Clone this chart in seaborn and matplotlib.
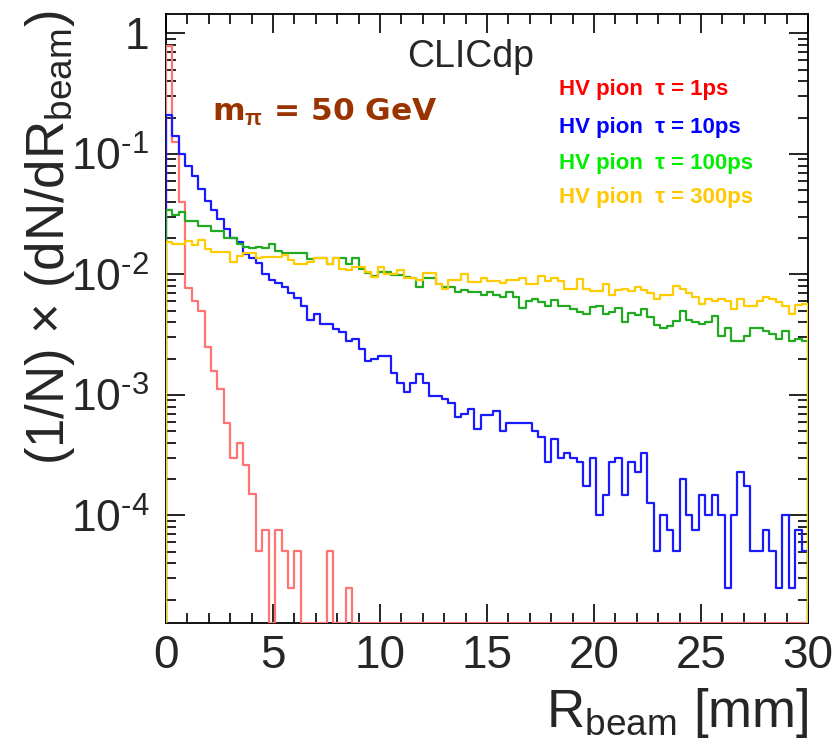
import numpy as np
import pandas as pd
import matplotlib
matplotlib.use("Agg")
import matplotlib.pyplot as plt
import seaborn as sns
from matplotlib.ticker import (FixedLocator, FixedFormatter, MultipleLocator,
                               LogLocator, NullFormatter)

# ---------------- data (normalised histograms, 100 bins over 0-30 mm) ----------------
r_lo, r_hi, n_bins = 0.0, 30.0, 100

tau_1ps = [0.78, 0.126, 0.040, 0.0077, 0.0060, 0.0050, 0.0025, 0.00158, 0.00113, 0.00058,
           0.00030, 0.00040, 0.00026, 0.00015, 5.1e-5, 7.5e-5, 0.0, 7.5e-5, 5.1e-5, 2.5e-5,
           5.1e-5, 0.0, 0.0, 0.0, 0.0, 5.1e-5, 0.0, 0.0, 2.5e-5, 0.0,
           0.0, 0.0, 0.0, 0.0, 0.0, 0.0, 0.0, 0.0, 0.0, 0.0,
           0.0, 0.0, 0.0, 0.0, 0.0, 0.0, 0.0, 0.0, 0.0, 0.0,
           0.0, 0.0, 0.0, 0.0, 0.0, 0.0, 0.0, 0.0, 0.0, 0.0,
           0.0, 0.0, 0.0, 0.0, 0.0, 0.0, 0.0, 0.0, 0.0, 0.0,
           0.0, 0.0, 0.0, 0.0, 0.0, 0.0, 0.0, 0.0, 0.0, 0.0,
           0.0, 0.0, 0.0, 0.0, 0.0, 0.0, 0.0, 0.0, 0.0, 0.0,
           0.0, 0.0, 0.0, 0.0, 0.0, 0.0, 0.0, 0.0, 0.0, 0.0]

tau_10ps = [0.21, 0.141, 0.100, 0.079, 0.065, 0.051, 0.041, 0.034, 0.029, 0.024,
            0.020, 0.0187, 0.0149, 0.0136, 0.0125, 0.0101, 0.0090, 0.0085, 0.0078, 0.0070,
            0.0064, 0.0055, 0.0042, 0.0047, 0.0039, 0.0039, 0.0035, 0.0033, 0.0028, 0.0029,
            0.0024, 0.0019, 0.0020, 0.0021, 0.0021, 0.00151, 0.00126, 0.00106, 0.00126, 0.00149,
            0.00125, 0.00098, 0.00098, 0.00092, 0.00085, 0.00065, 0.00070, 0.00077, 0.00052, 0.00068,
            0.00068, 0.00073, 0.00050, 0.00058, 0.00059, 0.00059, 0.00058, 0.00050, 0.00045, 0.00028,
            0.00043, 0.00030, 0.00033, 0.00030, 0.00028, 0.000175, 0.00030, 0.00010, 0.000149, 0.00028,
            0.00030, 0.000149, 0.00028, 0.00023, 0.00033, 0.000127, 5.1e-5, 0.00010, 7.5e-5, 5.1e-5,
            0.00020, 0.00010, 7.5e-5, 0.000149, 0.00010, 0.000149, 0.00010, 2.5e-5, 0.00010, 0.00023,
            0.000175, 5.1e-5, 5.1e-5, 7.5e-5, 5.1e-5, 2.5e-5, 0.00010, 2.5e-5, 7.5e-5, 5.1e-5]

tau_100ps = [0.034, 0.031, 0.033, 0.028, 0.028, 0.025, 0.025, 0.023, 0.023, 0.020,
             0.020, 0.018, 0.017, 0.0165, 0.017, 0.0165, 0.018, 0.0155, 0.015, 0.015,
             0.015, 0.015, 0.0135, 0.0138, 0.0138, 0.0123, 0.0138, 0.0138, 0.0123, 0.0138,
             0.011, 0.0102, 0.0097, 0.0104, 0.0104, 0.0099, 0.0099, 0.0095, 0.0094, 0.0079,
             0.0094, 0.0094, 0.0083, 0.0078, 0.0078, 0.0072, 0.0074, 0.0072, 0.0072, 0.0068,
             0.0071, 0.0068, 0.0065, 0.0072, 0.0065, 0.0053, 0.0060, 0.0062, 0.0059, 0.0055,
             0.0061, 0.0055, 0.0055, 0.0052, 0.0049, 0.0047, 0.0054, 0.0055, 0.0047, 0.0049,
             0.0053, 0.0040, 0.0048, 0.0046, 0.0052, 0.0044, 0.0038, 0.0036, 0.0037, 0.0041,
             0.0050, 0.0042, 0.0040, 0.0039, 0.0040, 0.0045, 0.0031, 0.0036, 0.0028, 0.0028,
             0.0031, 0.0036, 0.0036, 0.0034, 0.0032, 0.0029, 0.0034, 0.0028, 0.0029, 0.0028]

tau_300ps = [0.0187, 0.0179, 0.0179, 0.0190, 0.0175, 0.0193, 0.0164, 0.0154, 0.0154, 0.0154,
             0.0127, 0.0142, 0.0151, 0.0151, 0.0136, 0.0140, 0.0140, 0.0140, 0.0145, 0.0131,
             0.0123, 0.0123, 0.0127, 0.0136, 0.0136, 0.0123, 0.0136, 0.0112, 0.0109, 0.0116,
             0.0116, 0.0105, 0.0095, 0.0116, 0.0101, 0.0101, 0.0109, 0.0094, 0.0094, 0.0090,
             0.0102, 0.0102, 0.0084, 0.0075, 0.0090, 0.0090, 0.0101, 0.0087, 0.0087, 0.0093,
             0.0089, 0.0089, 0.0085, 0.0090, 0.0090, 0.0093, 0.0083, 0.0083, 0.0097, 0.0089,
             0.0093, 0.0089, 0.0075, 0.0075, 0.0091, 0.0076, 0.0073, 0.0073, 0.0084, 0.0067,
             0.0074, 0.0076, 0.0073, 0.0079, 0.0074, 0.0070, 0.0062, 0.0067, 0.0068, 0.0080,
             0.0076, 0.0070, 0.0065, 0.0057, 0.0062, 0.0060, 0.0062, 0.0060, 0.0052, 0.0062,
             0.0055, 0.0055, 0.0060, 0.0065, 0.0063, 0.0059, 0.0055, 0.0047, 0.0056, 0.0057]

series_labels = ["HV pion  \u03c4 = 1ps", "HV pion  \u03c4 = 10ps",
                 "HV pion  \u03c4 = 100ps", "HV pion  \u03c4 = 300ps"]
x_ticks = [0, 5, 10, 15, 20, 25, 30]
y_ticks = [1.0, 1e-1, 1e-2, 1e-3, 1e-4]
y_tick_labels = ["1", r"10$^{\text{-1}}$", r"10$^{\text{-2}}$",
                 r"10$^{\text{-3}}$", r"10$^{\text{-4}}$"]

# ---------------- styling ----------------
sns.set_style("ticks")
plt.rcParams['font.family'] = ['Liberation Sans', 'DejaVu Sans']
plt.rcParams['mathtext.fontset'] = 'custom'
plt.rcParams['mathtext.rm'] = 'Liberation Sans'
plt.rcParams['mathtext.it'] = 'Liberation Sans:italic'
plt.rcParams['mathtext.bf'] = 'Liberation Sans:bold'

line_colors = ['#ff7373', '#1a1aff', '#22aa22', '#ffcc00']
text_colors = ['#ff0000', '#0000ff', '#00ee00', '#ffc800']

W, H = 840, 745
fig = plt.figure(figsize=(W / 100, H / 100), dpi=100)
ax_l, ax_r, ax_t, ax_b = 166, 808, 14, 623
ax = fig.add_axes([ax_l / W, 1 - ax_b / H, (ax_r - ax_l) / W, (ax_b - ax_t) / H])
ax.set_yscale('log')
y_lo, y_hi = 1.28e-5, 1.45
ax.set_xlim(r_lo, r_hi)
ax.set_ylim(y_lo, y_hi)

edges = np.linspace(r_lo, r_hi, n_bins + 1)
for i, (vals, col) in enumerate(zip([tau_1ps, tau_10ps, tau_100ps, tau_300ps], line_colors)):
    v = np.maximum(np.asarray(vals, dtype=float), y_lo)
    xs = np.concatenate([[edges[0]], edges[:-1], [edges[-1], edges[-1]]])
    ys = np.concatenate([[y_lo], v, [v[-1], y_lo]])
    df = pd.DataFrame({"r": xs, "val": ys})
    sns.lineplot(data=df, x="r", y="val", ax=ax, color=col, lw=1.6,
                 drawstyle='steps-post', estimator=None, sort=False, zorder=3 + i * 0.1)

ax.set_xlim(r_lo, r_hi)
ax.set_ylim(y_lo, y_hi)
ax.set_xlabel("")
ax.set_ylabel("")

ax.xaxis.set_major_locator(FixedLocator(x_ticks))
ax.xaxis.set_minor_locator(MultipleLocator(1))
ax.yaxis.set_major_locator(FixedLocator(y_ticks))
ax.yaxis.set_major_formatter(FixedFormatter(y_tick_labels))
ax.yaxis.set_minor_locator(LogLocator(base=10, subs=np.arange(2, 10), numticks=20))
ax.yaxis.set_minor_formatter(NullFormatter())

ax.tick_params(which='both', direction='in', top=True, right=True, width=1.2, color='black')
ax.tick_params(which='major', length=14)
ax.tick_params(which='minor', length=7)
ax.tick_params(axis='x', which='major', labelsize=33, pad=8)
ax.tick_params(axis='y', which='major', labelsize=32, pad=12)
for s in ax.spines.values():
    s.set_linewidth(1.3)
    s.set_color('black')
    s.set_zorder(2.5)

# axis titles
fig.text(808 / W, 1 - 727 / H, r"R$_{\mathrm{beam}}$ [mm]", fontsize=38,
         ha='right', va='baseline')
fig.text(50 / W, 1 - 10 / H, r"(1/N) $\times$ (dN/dR$_{\mathrm{beam}}$)", fontsize=38,
         rotation=90, ha='center', va='top')

# annotations
fig.text(471 / W, 1 - 57 / H, "CLICdp", fontsize=27, ha='center', va='center')
fig.text(212 / W, 1 - 121 / H, r"m$_{\mathbf{\pi}}$ = 50 GeV", fontsize=22.5,
         family='DejaVu Sans', fontweight='bold', color='#993300',
         ha='left', va='baseline')
for lab, col, yc in zip(series_labels, text_colors, [90, 127, 163, 198]):
    fig.text(559 / W, 1 - yc / H, lab, fontsize=16, fontweight='bold', color=col,
             ha='left', va='center')

fig.savefig("out.png", dpi=100, facecolor='white')
